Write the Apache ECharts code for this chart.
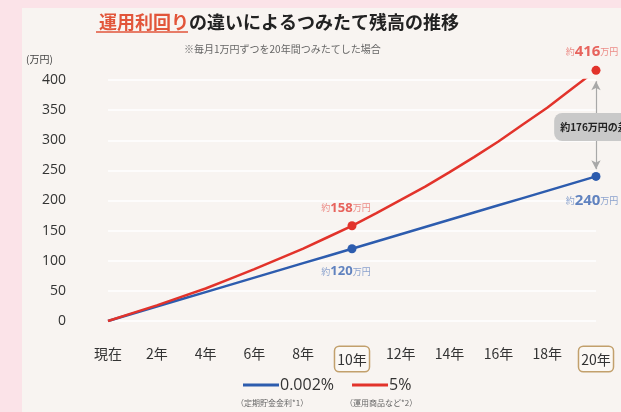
<!DOCTYPE html>
<html>
<head>
<meta charset="utf-8">
<script src="https://cdn.jsdelivr.net/npm/echarts@6/dist/echarts.min.js"></script>
<style>
  html, body { margin: 0; padding: 0; background: #fbe3e8; }
  #chart { width: 621px; height: 412px; }
</style>
</head>
<body>
<div id="chart"></div>
<script>
// 経過年数
var years = ["現在", "1年", "2年", "3年", "4年", "5年", "6年", "7年", "8年", "9年", "10年",
  "11年", "12年", "13年", "14年", "15年", "16年", "17年", "18年", "19年", "20年"];
// 0.002%（定期貯金）
var lowRate = [0, 12, 24, 36, 48, 60, 72, 84, 96, 108, 120,
  132, 144, 156, 168, 180, 192, 204, 216, 228, 240];
// 5%（運用商品など）
var highRate = [0, 13, 26, 40, 54, 70, 86, 103, 120, 139, 158,
  179, 201, 223, 247, 272, 298, 326, 354, 385, 416];
var yTicks = [0, 50, 100, 150, 200, 250, 300, 350, 400];
var markedYears = [10, 20];
var diffText = "約176万円の差";

var FONT = "Noto Sans CJK JP";
var RED = "#e2332b";
var BLUE = "#2d5cae";

function buildData(values, color, pos) {
  return values.map(function (v, i) {
    var marked = markedYears.indexOf(i) >= 0;
    return {
      value: v,
      symbol: marked ? "circle" : "none",
      symbolSize: marked ? 9 : 0,
      label: {
        show: marked,
        position: pos,
        distance: pos == "top" ? 7 : 12,
        offset: i == 10 ? [-6, 0] : [-4, 0],
        formatter: "{a|約}{b|" + v + "}{a|万円}",
        rich: {
          a: { fontSize: 9, color: color, opacity: 0.55, fontFamily: FONT },
          b: { fontSize: i == 20 ? 15 : 13, fontWeight: "bold", color: color, opacity: 0.75, fontFamily: "Open Sans" }
        }
      }
    };
  });
}

var chart = echarts.init(document.getElementById("chart"));
chart.setOption({
  backgroundColor: "#fbe3e8",
  textStyle: { fontFamily: FONT },
  graphic: [
    { type: "rect", left: 22, top: 8, z: -10, shape: { width: 600, height: 404 }, style: { fill: "#f8f4f1" } },
    { type: "line", z: 10, shape: { x1: 96, y1: 32, x2: 188, y2: 32 }, style: { stroke: "#e2553a", lineWidth: 1.5 } },
    { type: "text", left: 184, top: 44, style: { text: "※毎月1万円ずつを20年間つみたてした場合", fontSize: 10, fill: "#666", fontFamily: FONT } },
    { type: "text", left: 26, top: 54, style: { text: "(万円)", fontSize: 10, fill: "#444", fontFamily: FONT } },
    { type: "text", left: 236, top: 399, style: { text: "（定期貯金金利*1）", fontSize: 8, fill: "#666", fontFamily: FONT } },
    { type: "text", left: 345, top: 399, style: { text: "（運用商品など*2）", fontSize: 8, fill: "#666", fontFamily: FONT } }
  ],
  title: {
    text: "{r|運用利回り}{k|の違いによるつみたて残高の推移}",
    left: 94,
    top: 8,
    textStyle: {
      rich: {
        r: { fontSize: 18, fontWeight: "bold", color: "#e2553a", fontFamily: FONT },
        k: { fontSize: 18, fontWeight: "bold", color: "#222", fontFamily: FONT }
      }
    }
  },
  legend: {
    top: 372,
    left: 238,
    itemGap: 18,
    itemWidth: 36,
    itemHeight: 3,
    icon: "rect",
    textStyle: { fontSize: 16, color: "#333", fontFamily: "Open Sans", padding: [0, 0, 0, -4] },
    data: ["0.002%", "5%"]
  },
  grid: { left: 108, right: 25, top: 80, bottom: 91 },
  xAxis: {
    type: "category",
    data: years,
    boundaryGap: false,
    axisLine: { show: false },
    axisTick: { show: false },
    axisLabel: {
      interval: 1,
      margin: 26,
      fontSize: 14,
      color: "#333",
      fontFamily: FONT,
      formatter: function (v, i) {
        return markedYears.indexOf(i) >= 0 ? "{box|" + v + "}" : v;
      },
      rich: {
        box: {
          fontSize: 14, color: "#333", fontFamily: FONT,
          borderColor: "#c2a06c", borderWidth: 1.5, borderRadius: 4,
          padding: [6, 2, 4, 2], backgroundColor: "#fbf8f4"
        }
      }
    }
  },
  yAxis: {
    type: "value",
    min: yTicks[0],
    max: yTicks[yTicks.length - 1],
    interval: 50,
    axisLine: { show: false },
    axisTick: { show: false },
    axisLabel: { fontSize: 14, color: "#333", fontFamily: "Open Sans", margin: 42 },
    splitLine: { lineStyle: { color: "#ffffff", width: 1.5 } }
  },
  series: [
    {
      name: "0.002%",
      type: "line",
      color: BLUE,
      clip: false,
      lineStyle: { width: 2.5, color: BLUE },
      data: buildData(lowRate, BLUE, "bottom"),
      z: 3
    },
    {
      name: "5%",
      type: "line",
      color: RED,
      clip: false,
      lineStyle: { width: 2.5, color: RED },
      data: buildData(highRate, RED, "top"),
      z: 4,
      markLine: {
        silent: true,
        symbol: ["arrow", "arrow"],
        symbolSize: [7, 9],
        lineStyle: { color: "#a8a8a8", width: 1.2, type: "solid" },
        label: { show: false },
        data: [[
          { coord: [20, 398] },
          { coord: [20, lowRate[20] + 12] }
        ]]
      },
      markPoint: {
        silent: true,
        symbol: "rect",
        symbolSize: 1,
        itemStyle: { color: "transparent" },
        label: {
          show: true,
          formatter: diffText,
          fontSize: 10,
          fontWeight: "bold",
          color: "#222",
          fontFamily: FONT,
          backgroundColor: "#c9c9c9",
          padding: [9, 6],
          borderRadius: 8,
          offset: [-2, 0]
        },
        data: [{ coord: [20, (highRate[20] + lowRate[20]) / 2 - 6] }]
      }
    }
  ]
});
</script>
</body>
</html>
